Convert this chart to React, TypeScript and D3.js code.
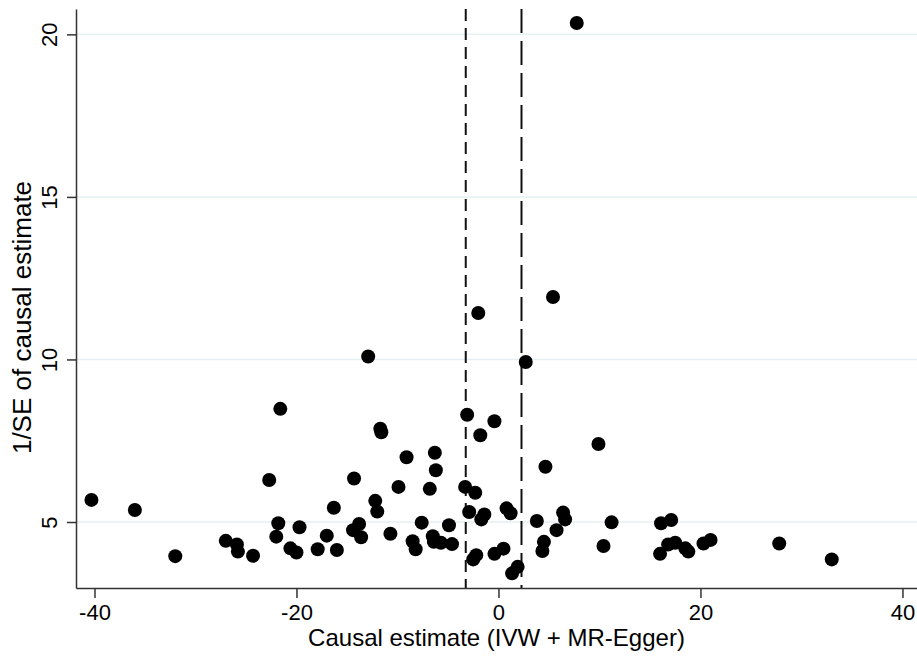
import React, { useEffect, useRef } from 'react'
import * as d3 from 'd3'

// causal estimate per variant (x) and 1/SE (y)
const estimates = [
  -40.3, -36.0, -32.0, -27.0, -25.9, -25.8, -24.3, -22.7, -21.6, -21.8,
  -22.0, -19.7, -20.6, -20.0, -17.9, -17.0, -16.0, -16.3, -14.4, -13.8,
  -13.6, -14.3, -12.9, -11.7, -11.6, -12.2, -12.0, -10.7, -9.9, -9.1,
  -8.5, -8.2, -7.6, -6.8, -6.3, -6.2, -6.5, -6.4, -5.7, -4.9,
  -4.6, -3.1, -3.3, -2.3, -2.9, -1.8, -0.4, -1.4, -1.7, -2.5,
  -2.2, -0.4, 0.5, 1.35, 1.9, 0.8, 1.2, 2.7, 3.8, 4.65,
  4.5, 4.35, 5.75, 6.4, 6.6, 9.9, 10.4, 11.2, 5.4, -2.0,
  7.75, 16.1, 17.1, 16.8, 17.5, 16.0, 18.5, 18.8, 20.3, 21.0,
  27.8, 33.0
]
const precision = [
  5.68, 5.37, 3.95, 4.42, 4.31, 4.09, 3.96, 6.29, 8.48, 4.96,
  4.55, 4.84, 4.19, 4.06, 4.16, 4.58, 4.14, 5.44, 4.75, 4.94,
  4.53, 6.34, 10.09, 7.87, 7.76, 5.65, 5.32, 4.64, 6.08, 6.99,
  4.41, 4.16, 4.98, 6.02, 7.13, 6.59, 4.56, 4.39, 4.36, 4.9,
  4.32, 8.3, 6.08, 5.9, 5.31, 7.67, 8.1, 5.23, 5.08, 3.85,
  3.98, 4.02, 4.18, 3.42, 3.62, 5.42, 5.27, 9.92, 5.03, 6.7,
  4.39, 4.11, 4.75, 5.29, 5.08, 7.4, 4.26, 4.99, 11.92, 11.43,
  20.35, 4.96, 5.06, 4.31, 4.36, 4.02, 4.19, 4.09, 4.34, 4.45,
  4.34, 3.85
]
const ivwEstimate = -3.24
const eggerEstimate = 2.28
const xTicks = [-40, -20, 0, 20, 40]
const yTicks = [5, 10, 15, 20]

const W = 917
const H = 657

export default function App() {
  const ref = useRef<SVGSVGElement>(null)

  useEffect(() => {
    const svg = d3.select(ref.current)
    svg.selectAll('*').remove()

    const x = d3.scaleLinear().domain([-41.83, 41.44]).range([76, 917])
    const y = d3.scaleLinear().domain([2.97, 20.78]).range([588, 9])
    const font = 'Arial, "Liberation Sans", sans-serif'
    const fmt = (d: number) => String(d) // plain hyphen, like the original

    // horizontal grid
    svg.append('g')
      .selectAll('line')
      .data(yTicks)
      .enter().append('line')
        .attr('x1', x(-41.83)).attr('x2', x(41.44))
        .attr('y1', d => y(d)).attr('y2', d => y(d))
        .attr('stroke', '#e6eff1')
        .attr('stroke-width', 1.5)

    // reference lines
    svg.append('line')
      .attr('x1', x(ivwEstimate)).attr('x2', x(ivwEstimate))
      .attr('y1', y(20.78)).attr('y2', y(2.97))
      .attr('stroke', '#111')
      .attr('stroke-width', 2)
      .attr('stroke-dasharray', '12,7')
    svg.append('line')
      .attr('x1', x(eggerEstimate)).attr('x2', x(eggerEstimate))
      .attr('y1', y(20.78)).attr('y2', y(2.97))
      .attr('stroke', '#111')
      .attr('stroke-width', 2)
      .attr('stroke-dasharray', '24,8')

    // points
    svg.append('g')
      .selectAll('circle')
      .data(estimates.map((e, i) => ({ e, p: precision[i] })))
      .enter().append('circle')
        .attr('cx', d => x(d.e))
        .attr('cy', d => y(d.p))
        .attr('r', 7)
        .attr('fill', '#000')

    // x axis
    svg.append('g')
      .attr('transform', `translate(0, ${y(2.97)})`)
      .call(g => {
        g.call(d3.axisBottom(x).tickValues(xTicks).tickFormat(fmt).tickSize(10).tickPadding(6).tickSizeOuter(0))
        g.select('.domain').attr('stroke', '#333').attr('stroke-width', 1.5)
        g.selectAll('.tick line').attr('stroke', '#333').attr('stroke-width', 1.5)
        g.selectAll('.tick text').attr('font-size', '22px').attr('font-family', font).attr('fill', '#000')
      })

    // y axis, rotated labels
    svg.append('g')
      .attr('transform', `translate(${x(-41.83)}, 0)`)
      .call(g => {
        g.call(d3.axisLeft(y).tickValues(yTicks).tickFormat(fmt).tickSize(9).tickSizeOuter(0))
        g.select('.domain').attr('stroke', '#333').attr('stroke-width', 1.5)
        g.selectAll('.tick line').attr('stroke', '#333').attr('stroke-width', 1.5)
        g.selectAll('.tick text')
          .attr('font-size', '22px').attr('font-family', font).attr('fill', '#000')
          .attr('x', null).attr('dy', null)
          .attr('text-anchor', 'middle')
          .attr('transform', 'translate(-19, 0) rotate(-90)')
      })

    svg.append('text')
      .attr('x', (x(-41.83) + x(41.44)) / 2)
      .attr('y', 646)
      .attr('text-anchor', 'middle')
      .attr('font-size', '24px')
      .attr('font-family', font)
      .text('Causal estimate (IVW + MR-Egger)')

    svg.append('text')
      .attr('transform', `translate(31, ${(y(2.97) + y(20.78)) / 2 + 19}) rotate(-90)`)
      .attr('text-anchor', 'middle')
      .attr('font-size', '26px')
      .attr('font-family', font)
      .text('1/SE of causal estimate')
  }, [])

  return (
    <svg ref={ref} width={W} height={H}
      style={{ position: 'fixed', left: 0, top: 0, background: '#fff' }} />
  )
}
